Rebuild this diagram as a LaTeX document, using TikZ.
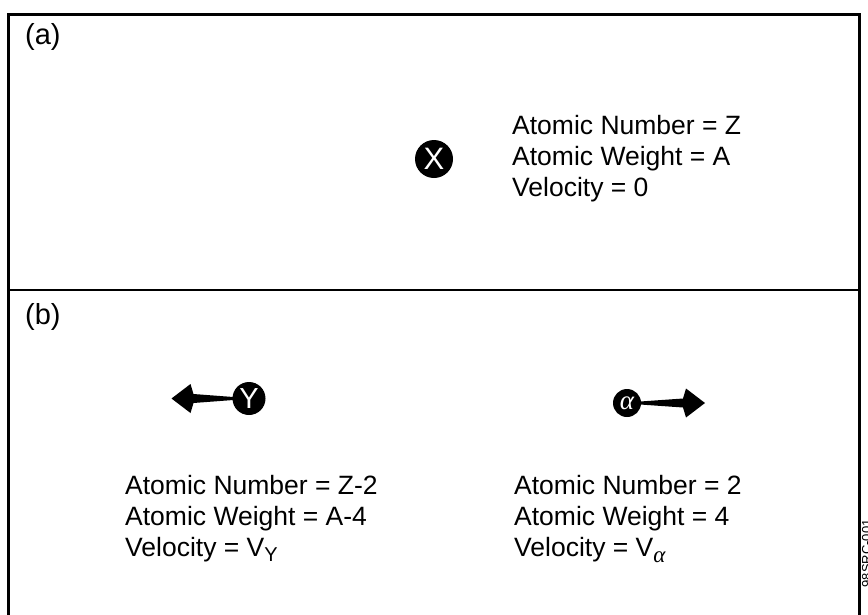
\documentclass[tikz,border=0pt]{standalone}
\usepackage{fontspec}
\setmainfont{Liberation Sans}
\newfontfamily\greekfont{Liberation Serif}
\usetikzlibrary{calc}
\begin{document}
\begin{tikzpicture}[x=1pt,y=-1pt,
  lbl/.style={font=\fontsize{26.5}{31}\selectfont, anchor=base west, inner sep=0pt},
  panel/.style={font=\fontsize{29}{31}\selectfont, anchor=base west, inner sep=0pt},
  particle/.style={circle, fill=black, text=white, inner sep=0pt},
  frameline/.style={line width=3pt},
  divider/.style={line width=1.3pt}]
\useasboundingbox (0,0) rectangle (868,614);
\fill[white] (0,0) rectangle (868,614);

% outer frame (open at the bottom) and the divider between the panels
\draw[frameline] (8.5,640) -- (8.5,14) -- (859,14) -- (859,640);
\draw[divider] (8.5,290) -- (859,290);

% panel labels
\node[panel] (pa) at (25,44) {(a)};
\node[panel] (pb) at (25,324) {(b)};

% (a) parent nucleus at rest
\node[particle, minimum size=38pt, font=\fontsize{31}{31}\selectfont] (X) at (434,159) {X};
\node[lbl] (a1) at (512,134) {Atomic Number = Z};
\node[lbl] (a2) at (512,165) {Atomic Weight = A};
\node[lbl] (a3) at (512,196) {Velocity = 0};

% (b) daughter nucleus moving left
\node[particle, minimum size=33pt, font=\fontsize{29}{29}\selectfont] (Y) at (249,398.5) {Y};
\coordinate (ytip) at (171.5,398.5);
\fill ($(Y.west)+(1,-1.5)$) -- ($(ytip)+(22,-4.5)$) -- ($(ytip)+(19,-14.5)$) -- (ytip)
      -- ($(ytip)+(19,14.5)$) -- ($(ytip)+(22,4.5)$) -- ($(Y.west)+(1,1.5)$) -- cycle;

% (b) alpha particle moving right
\node[particle, minimum size=28pt, font=\greekfont\itshape\fontsize{27}{27}\selectfont] (al) at (627,403) {α};
\coordinate (atip) at (705,403);
\fill ($(al.east)+(-1,-1.5)$) -- ($(atip)+(-22,-4.5)$) -- ($(atip)+(-19,-14.5)$) -- (atip)
      -- ($(atip)+(-19,14.5)$) -- ($(atip)+(-22,4.5)$) -- ($(al.east)+(-1,1.5)$) -- cycle;

% (b) properties of the products
\node[lbl] (b1) at (125,494) {Atomic Number = Z-2};
\node[lbl] (b2) at (125,525) {Atomic Weight = A-4};
\node[lbl] (b3) at (125,556) {Velocity = V\raisebox{-5pt}{\fontsize{20}{20}\selectfont Y}};
\node[lbl] (c1) at (514,494) {Atomic Number = 2};
\node[lbl] (c2) at (514,525) {Atomic Weight = 4};
\node[lbl] (c3) at (514,556) {Velocity = V\raisebox{-6pt}{\greekfont\itshape\fontsize{23}{23}\selectfont α}};

% figure reference number along the right margin
\node[rotate=90, anchor=base east, inner sep=0pt, font=\fontsize{13}{13}\selectfont] (ref) at (871,512) {98SRC-001 .};
\end{tikzpicture}
\end{document}
